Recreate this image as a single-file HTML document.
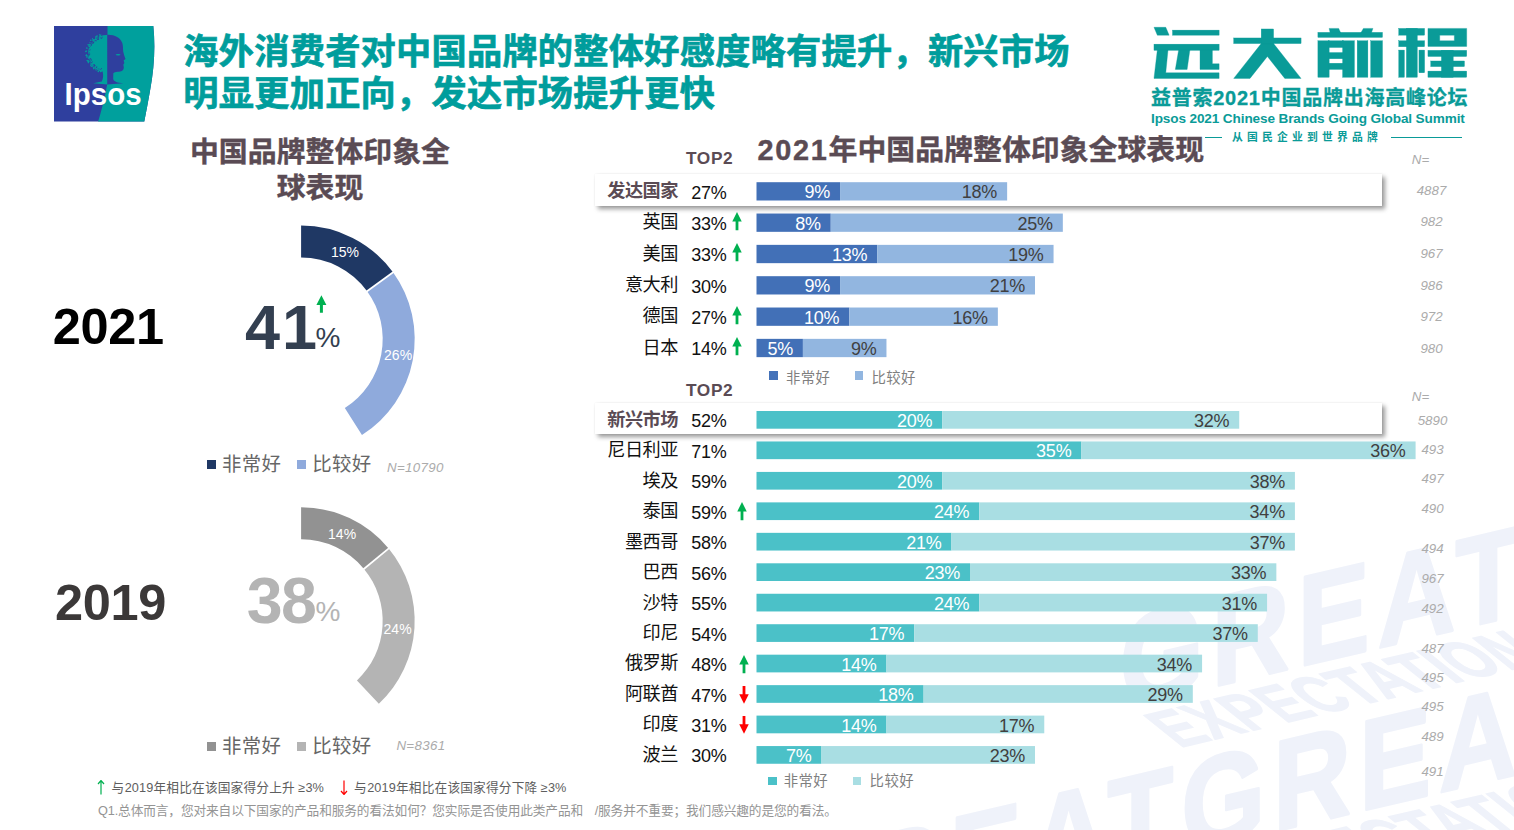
<!DOCTYPE html>
<html lang="zh-CN"><head>
<meta charset="utf-8">
<title>Ipsos 2021 Chinese Brands Going Global Summit</title>
<style>
html,body{margin:0;padding:0;}
body{width:1514px;height:830px;position:relative;overflow:hidden;background:#fff;font-family:"Liberation Sans","Noto Sans CJK SC",sans-serif;color:#000;}
.abs{position:absolute;}
.wm{position:absolute;left:0;top:0;width:1514px;height:830px;}
.title{position:absolute;left:183.3px;top:30.6px;letter-spacing:0.27px;font-size:35.2px;line-height:42.6px;-webkit-text-stroke:0.7px #009d9c;font-weight:bold;color:#009d9c;white-space:nowrap;}
.ltitle{position:absolute;left:150px;top:134px;width:340px;text-align:center;font-size:28.9px;line-height:36px;font-weight:bold;color:#5a4b54;-webkit-text-stroke:0.4px #5a4b54;}
.rtitle{position:absolute;left:757.5px;top:132px;font-size:28.9px;line-height:36px;font-weight:bold;color:#5a4b54;-webkit-text-stroke:0.4px #5a4b54;white-space:nowrap;}
.top2{position:absolute;left:686px;letter-spacing:0.6px;font-size:17.3px;line-height:20px;font-weight:bold;color:#5a4b54;}
.lbl{position:absolute;left:540px;width:138px;text-align:right;letter-spacing:-0.5px;font-size:18.2px;line-height:30px;color:#111;white-space:nowrap;}
.lbl.b{font-weight:bold;color:#5a4b54;}
.t2{position:absolute;left:691.3px;letter-spacing:-0.25px;font-size:18px;line-height:30px;color:#111;}
.bar{position:absolute;box-sizing:border-box;padding-right:10px;text-align:right;letter-spacing:-0.25px;font-size:18px;line-height:20px;white-space:nowrap;overflow:visible;}
.ar{position:absolute;}
.hl{position:absolute;background:#fff;box-shadow:3px 3px 4.5px rgba(0,0,0,.4), 0 0 1.5px rgba(0,0,0,.07);}
.n{position:absolute;width:60px;text-align:center;font-size:13.3px;line-height:16px;font-style:italic;color:#ababab;}
.lg{position:absolute;font-size:14.4px;line-height:18px;color:#7f7f7f;white-space:nowrap;letter-spacing:0.4px;}
.sq{position:absolute;width:8.5px;height:8.5px;}
.year{position:absolute;font-weight:bold;white-space:nowrap;}
.foot1{position:absolute;left:111.5px;top:779px;letter-spacing:0.16px;font-size:12.7px;line-height:18px;color:#5e5e5e;white-space:nowrap;}
.foot2{position:absolute;left:98px;top:802px;letter-spacing:-0.12px;font-size:12.7px;line-height:18px;color:#949494;white-space:nowrap;}
.sub1{position:absolute;left:1151px;top:86px;font-size:20px;line-height:24px;font-weight:bold;color:#0a9b98;letter-spacing:0.75px;-webkit-text-stroke:0.3px #0a9b98;white-space:nowrap;}
.sub2{position:absolute;left:1151px;top:110px;letter-spacing:-0.13px;font-size:13.6px;line-height:18px;font-weight:bold;color:#0a9b98;white-space:nowrap;}
.sub3{position:absolute;left:1232px;top:130px;font-size:10.8px;line-height:15px;font-weight:bold;color:#0a9b98;letter-spacing:4.2px;white-space:nowrap;}
.ln{position:absolute;height:1px;background:#0a9b98;top:137px;}
</style>
</head>
<body>

<!-- watermark -->
<svg class="wm" viewBox="0 0 1514 830">
<g fill="#eff2fa" stroke="#eff2fa" stroke-width="3" stroke-linejoin="round" font-family="Liberation Sans, sans-serif" font-weight="bold">
<g transform="matrix(0.84,-0.1974,0,1,1120,708.5)"><text x="0" y="0" font-size="128" letter-spacing="9.8">GREAT</text></g>
<g transform="matrix(0.84,-0.1974,0.92,0.737,1179.4,747.8)"><text x="0" y="0" font-size="62" letter-spacing="0.5" stroke-width="1.5">EXPECTATION</text></g>
<g transform="matrix(0.84,-0.1974,0,1,772,949.3)"><text x="0" y="0" font-size="128" letter-spacing="9.8">GREATGREAT</text></g>
<g transform="matrix(0.84,-0.1974,0.92,0.737,1248.7,890.6)"><text x="0" y="0" font-size="62" letter-spacing="0.5" stroke-width="1.5">EXPECTATION</text></g>
</g>
</svg>

<!-- Ipsos logo -->
<svg class="abs" style="left:53.7px;top:25.8px" width="101" height="96" viewBox="0 0 101 96">
<defs><clipPath id="lc"><path d="M0,0 H99.3 Q102.5,30 96,65 Q93,82 90.3,95.4 H0 Z"></path></clipPath></defs>
<g clip-path="url(#lc)">
<rect x="0" y="0" width="101" height="96" fill="#2f3f9e"></rect>
<path d="M53.5,0 H101 V96 H44 Q49,80 53.3,58 Z" fill="#00a09d"></path>
<!-- hair / tree (teal on blue) -->
<path d="M53.3,8.9 C44,8.6 34.5,15.5 34.2,26.5 C34,37 41.5,44.6 48.6,45.6 C49.6,49 49.2,53 47.8,55.6 L39.2,57.2 L53.3,58.6 Z" fill="#00a09d"></path><circle cx="37.6" cy="18.8" r="0.51" fill="#2f3f9e"></circle><circle cx="45.9" cy="10.5" r="0.58" fill="#00a09d"></circle><circle cx="46.7" cy="10.4" r="0.46" fill="#00a09d"></circle><circle cx="36.0" cy="23.5" r="0.37" fill="#2f3f9e"></circle><circle cx="33.1" cy="22.3" r="0.49" fill="#00a09d"></circle><circle cx="39.2" cy="13.8" r="0.78" fill="#00a09d"></circle><circle cx="34.5" cy="30.2" r="0.59" fill="#2f3f9e"></circle><circle cx="46.9" cy="8.8" r="0.55" fill="#00a09d"></circle><circle cx="43.5" cy="13.4" r="0.43" fill="#2f3f9e"></circle><circle cx="40.7" cy="39.4" r="0.50" fill="#2f3f9e"></circle><circle cx="35.4" cy="33.1" r="0.49" fill="#2f3f9e"></circle><circle cx="46.9" cy="12.3" r="0.40" fill="#2f3f9e"></circle><circle cx="36.0" cy="35.0" r="0.43" fill="#2f3f9e"></circle><circle cx="34.4" cy="30.6" r="0.42" fill="#2f3f9e"></circle><circle cx="38.5" cy="40.3" r="0.54" fill="#00a09d"></circle><circle cx="34.0" cy="30.1" r="0.76" fill="#00a09d"></circle><circle cx="37.7" cy="36.7" r="0.60" fill="#2f3f9e"></circle><circle cx="44.0" cy="11.7" r="0.54" fill="#2f3f9e"></circle><circle cx="42.4" cy="12.2" r="0.46" fill="#00a09d"></circle><circle cx="34.5" cy="35.1" r="0.65" fill="#00a09d"></circle><circle cx="42.6" cy="41.5" r="0.52" fill="#2f3f9e"></circle><circle cx="34.0" cy="31.2" r="0.61" fill="#00a09d"></circle><circle cx="39.7" cy="42.7" r="0.62" fill="#00a09d"></circle><circle cx="37.0" cy="33.7" r="0.53" fill="#2f3f9e"></circle><circle cx="33.2" cy="34.4" r="0.74" fill="#00a09d"></circle><circle cx="37.9" cy="16.7" r="0.52" fill="#2f3f9e"></circle><circle cx="48.4" cy="10.3" r="0.51" fill="#00a09d"></circle><circle cx="44.6" cy="13.1" r="0.54" fill="#2f3f9e"></circle><circle cx="43.8" cy="12.6" r="0.45" fill="#2f3f9e"></circle><circle cx="42.9" cy="40.5" r="0.46" fill="#2f3f9e"></circle><circle cx="32.4" cy="29.0" r="0.74" fill="#00a09d"></circle><circle cx="42.2" cy="41.1" r="0.45" fill="#2f3f9e"></circle><circle cx="34.2" cy="18.8" r="0.79" fill="#00a09d"></circle><circle cx="43.1" cy="13.3" r="0.41" fill="#2f3f9e"></circle><circle cx="39.3" cy="14.6" r="0.66" fill="#00a09d"></circle><circle cx="39.7" cy="17.0" r="0.45" fill="#2f3f9e"></circle><circle cx="35.1" cy="19.9" r="0.78" fill="#00a09d"></circle><circle cx="35.9" cy="35.6" r="0.67" fill="#00a09d"></circle><circle cx="37.3" cy="34.1" r="0.57" fill="#2f3f9e"></circle><circle cx="37.5" cy="40.3" r="0.73" fill="#00a09d"></circle><circle cx="35.3" cy="21.2" r="0.38" fill="#2f3f9e"></circle><circle cx="36.5" cy="32.4" r="0.37" fill="#2f3f9e"></circle><circle cx="41.0" cy="14.8" r="0.44" fill="#2f3f9e"></circle><circle cx="47.4" cy="12.4" r="0.39" fill="#2f3f9e"></circle><circle cx="44.8" cy="11.6" r="0.36" fill="#2f3f9e"></circle><circle cx="41.9" cy="42.5" r="0.50" fill="#00a09d"></circle><circle cx="39.0" cy="15.6" r="0.44" fill="#2f3f9e"></circle><circle cx="43.1" cy="10.1" r="0.80" fill="#00a09d"></circle><circle cx="34.1" cy="24.7" r="0.48" fill="#00a09d"></circle><circle cx="44.8" cy="11.7" r="0.42" fill="#2f3f9e"></circle><circle cx="41.2" cy="39.7" r="0.36" fill="#2f3f9e"></circle><circle cx="45.5" cy="43.8" r="0.50" fill="#00a09d"></circle><circle cx="35.8" cy="28.4" r="0.48" fill="#2f3f9e"></circle><circle cx="46.5" cy="45.5" r="0.69" fill="#00a09d"></circle><circle cx="38.7" cy="15.9" r="0.39" fill="#2f3f9e"></circle><circle cx="38.2" cy="39.0" r="0.72" fill="#00a09d"></circle><circle cx="37.2" cy="18.9" r="0.55" fill="#2f3f9e"></circle><circle cx="46.9" cy="45.6" r="0.73" fill="#00a09d"></circle><circle cx="39.3" cy="41.3" r="0.53" fill="#00a09d"></circle><circle cx="34.4" cy="27.3" r="0.36" fill="#2f3f9e"></circle><circle cx="48.2" cy="11.1" r="0.41" fill="#2f3f9e"></circle><circle cx="34.4" cy="36.7" r="0.61" fill="#00a09d"></circle><circle cx="44.3" cy="45.4" r="0.78" fill="#00a09d"></circle><circle cx="36.5" cy="20.3" r="0.41" fill="#2f3f9e"></circle><circle cx="41.3" cy="14.3" r="0.51" fill="#2f3f9e"></circle><circle cx="42.7" cy="44.0" r="0.62" fill="#00a09d"></circle><circle cx="34.0" cy="34.4" r="0.48" fill="#00a09d"></circle><circle cx="33.8" cy="35.0" r="0.72" fill="#00a09d"></circle><circle cx="37.7" cy="38.0" r="0.51" fill="#00a09d"></circle><circle cx="39.3" cy="39.0" r="0.55" fill="#2f3f9e"></circle><circle cx="46.6" cy="43.5" r="0.45" fill="#2f3f9e"></circle><circle cx="45.1" cy="44.5" r="0.51" fill="#00a09d"></circle><circle cx="44.1" cy="12.9" r="0.58" fill="#2f3f9e"></circle><circle cx="40.4" cy="39.0" r="0.56" fill="#2f3f9e"></circle><circle cx="46.8" cy="44.7" r="0.57" fill="#00a09d"></circle><circle cx="35.4" cy="28.7" r="0.35" fill="#2f3f9e"></circle><circle cx="46.4" cy="44.6" r="0.63" fill="#00a09d"></circle><circle cx="44.9" cy="43.1" r="0.57" fill="#2f3f9e"></circle><circle cx="40.9" cy="39.8" r="0.41" fill="#2f3f9e"></circle><circle cx="38.1" cy="17.4" r="0.50" fill="#2f3f9e"></circle><circle cx="38.6" cy="15.7" r="0.38" fill="#2f3f9e"></circle><circle cx="44.0" cy="42.4" r="0.46" fill="#2f3f9e"></circle><circle cx="32.5" cy="30.9" r="0.60" fill="#00a09d"></circle><circle cx="44.0" cy="43.1" r="0.64" fill="#00a09d"></circle><circle cx="35.8" cy="27.5" r="0.46" fill="#2f3f9e"></circle><circle cx="42.3" cy="14.7" r="0.55" fill="#2f3f9e"></circle><circle cx="41.6" cy="12.7" r="0.70" fill="#00a09d"></circle><circle cx="34.7" cy="29.1" r="0.48" fill="#2f3f9e"></circle><circle cx="32.8" cy="29.3" r="0.49" fill="#00a09d"></circle><circle cx="35.0" cy="29.3" r="0.42" fill="#2f3f9e"></circle><circle cx="38.3" cy="39.0" r="0.65" fill="#00a09d"></circle><circle cx="36.6" cy="39.6" r="0.61" fill="#00a09d"></circle><circle cx="34.5" cy="32.0" r="0.63" fill="#00a09d"></circle><circle cx="36.2" cy="35.6" r="0.48" fill="#2f3f9e"></circle><circle cx="32.2" cy="25.1" r="0.69" fill="#00a09d"></circle><circle cx="41.4" cy="43.8" r="0.54" fill="#00a09d"></circle><circle cx="32.2" cy="29.6" r="0.74" fill="#00a09d"></circle><circle cx="43.7" cy="13.2" r="0.46" fill="#2f3f9e"></circle><circle cx="46.3" cy="11.7" r="0.37" fill="#2f3f9e"></circle><circle cx="34.4" cy="35.2" r="0.76" fill="#00a09d"></circle><circle cx="41.9" cy="11.4" r="0.68" fill="#00a09d"></circle><circle cx="42.1" cy="10.5" r="0.79" fill="#00a09d"></circle><circle cx="38.5" cy="12.6" r="0.59" fill="#00a09d"></circle><circle cx="31.9" cy="25.6" r="0.74" fill="#00a09d"></circle><circle cx="42.2" cy="12.6" r="0.48" fill="#2f3f9e"></circle><circle cx="37.1" cy="19.3" r="0.43" fill="#2f3f9e"></circle><circle cx="38.4" cy="35.8" r="0.49" fill="#2f3f9e"></circle><circle cx="36.2" cy="23.9" r="0.43" fill="#2f3f9e"></circle><circle cx="34.6" cy="32.6" r="0.47" fill="#00a09d"></circle><circle cx="46.9" cy="45.3" r="0.79" fill="#00a09d"></circle><circle cx="44.8" cy="12.0" r="0.36" fill="#2f3f9e"></circle><circle cx="39.2" cy="38.5" r="0.38" fill="#2f3f9e"></circle><circle cx="32.8" cy="22.1" r="0.74" fill="#00a09d"></circle><circle cx="39.4" cy="16.4" r="0.58" fill="#2f3f9e"></circle><circle cx="33.2" cy="30.1" r="0.48" fill="#00a09d"></circle><circle cx="46.5" cy="9.6" r="0.60" fill="#00a09d"></circle><circle cx="45.5" cy="8.8" r="0.67" fill="#00a09d"></circle><circle cx="40.4" cy="38.7" r="0.56" fill="#2f3f9e"></circle><circle cx="45.9" cy="9.0" r="0.61" fill="#00a09d"></circle><circle cx="35.8" cy="18.6" r="0.77" fill="#00a09d"></circle><circle cx="39.2" cy="16.8" r="0.48" fill="#2f3f9e"></circle><circle cx="40.1" cy="15.9" r="0.39" fill="#2f3f9e"></circle><circle cx="47.3" cy="11.6" r="0.43" fill="#2f3f9e"></circle><circle cx="36.0" cy="16.6" r="0.55" fill="#00a09d"></circle><circle cx="35.2" cy="26.5" r="0.44" fill="#2f3f9e"></circle><circle cx="48.7" cy="11.1" r="0.35" fill="#2f3f9e"></circle><circle cx="36.9" cy="37.5" r="0.52" fill="#00a09d"></circle><circle cx="32.2" cy="24.9" r="0.49" fill="#00a09d"></circle><circle cx="40.1" cy="40.3" r="0.47" fill="#2f3f9e"></circle><circle cx="40.8" cy="40.7" r="0.48" fill="#2f3f9e"></circle><circle cx="34.2" cy="36.5" r="0.57" fill="#00a09d"></circle><circle cx="39.9" cy="41.7" r="0.67" fill="#00a09d"></circle><circle cx="35.3" cy="21.9" r="0.36" fill="#2f3f9e"></circle><circle cx="44.1" cy="13.2" r="0.54" fill="#2f3f9e"></circle><circle cx="39.4" cy="16.3" r="0.37" fill="#2f3f9e"></circle><circle cx="39.9" cy="42.5" r="0.68" fill="#00a09d"></circle><circle cx="38.4" cy="17.0" r="0.42" fill="#2f3f9e"></circle><circle cx="35.4" cy="24.6" r="0.46" fill="#2f3f9e"></circle><circle cx="36.8" cy="14.3" r="0.79" fill="#00a09d"></circle><circle cx="34.9" cy="28.7" r="0.59" fill="#2f3f9e"></circle><circle cx="37.3" cy="17.8" r="0.35" fill="#2f3f9e"></circle><circle cx="35.2" cy="20.6" r="0.63" fill="#00a09d"></circle><circle cx="40.4" cy="13.5" r="0.45" fill="#00a09d"></circle><circle cx="39.4" cy="16.8" r="0.45" fill="#2f3f9e"></circle><circle cx="47.8" cy="12.2" r="0.43" fill="#2f3f9e"></circle><circle cx="39.0" cy="14.2" r="0.64" fill="#00a09d"></circle><circle cx="37.1" cy="38.5" r="0.70" fill="#00a09d"></circle><circle cx="42.6" cy="41.8" r="0.43" fill="#2f3f9e"></circle><circle cx="47.4" cy="42.6" r="0.53" fill="#2f3f9e"></circle><circle cx="36.7" cy="32.8" r="0.56" fill="#2f3f9e"></circle>
<!-- face (blue on teal) -->
<path d="M53.3,8.8 C60,8.4 66.5,11.5 68.3,17 C69.2,20 69,23.5 69.2,25.5 C69.6,28 70.6,30.5 71.5,33 L69.6,34.6 L70.4,37 L69.3,38.8 L69.8,41 C70,44.5 67.5,45.8 63.5,45.8 C61.5,46 60,46.5 59.3,47.2 L59.2,53 C59.8,55.5 63.5,56.8 69.2,57.3 L53.3,58.6 Z" fill="#2f3f9e"></path>
<ellipse cx="64.1" cy="28.8" rx="2.4" ry="0.8" fill="#00a09d"></ellipse>
</g>
<text x="10.6" y="78.9" font-family="Liberation Sans, sans-serif" font-weight="bold" font-size="31.5" fill="#fff" textLength="77" lengthAdjust="spacingAndGlyphs">Ipsos</text>
</svg>

<!-- main title -->
<div class="title">海外消费者对中国品牌的整体好感度略有提升，新兴市场<br>明显更加正向，发达市场提升更快</div>

<!-- summit logo -->
<svg class="abs" style="left:0;top:0" width="1514" height="100" viewBox="0 0 1514 100" fill="#0a9b98" stroke="#0a9b98" stroke-width="0.35">
<polygon points="1153.98,27.3 1165.77,27.3 1169.14,35.16 1157.35,35.16"></polygon>
<rect x="1172.51" y="30.11" width="46.6" height="5.05"></rect>
<rect x="1153.98" y="44.14" width="65.13" height="6.18"></rect>
<polygon points="1157.35,49.76 1168.02,49.76 1165.77,72.77 1219.11,72.77 1219.11,78.39 1153.98,78.39"></polygon>
<polygon points="1178.69,49.76 1189.91,49.76 1187.11,69.4 1175.32,69.4"></polygon>
<polygon points="1200.02,49.76 1212.37,49.76 1212.37,63.79 1219.11,63.79 1219.11,69.4 1200.02,69.4"></polygon>
<rect x="1233.7" y="37.97" width="67.37" height="5.61"></rect>
<rect x="1261.21" y="28.98" width="12.36" height="15.27"></rect>
<polygon points="1261.21,43.58 1273.57,43.58 1301.07,78.39 1284.79,78.39 1267.39,56.49 1249.99,78.39 1233.7,78.39"></polygon>
<polygon points="1329.14,28.42 1338.69,28.42 1340.93,33.25 1330.26,33.25"></polygon>
<polygon points="1363.39,28.42 1372.93,28.42 1371.25,33.25 1360.58,33.25"></polygon>
<rect x="1317.91" y="32.35" width="64.57" height="5.05"></rect>
<rect x="1317.91" y="40.77" width="11.23" height="36.49"></rect>
<rect x="1342.62" y="40.77" width="11.78" height="36.49"></rect>
<rect x="1328.36" y="40.77" width="15.04" height="6.74"></rect>
<rect x="1328.36" y="52.56" width="15.04" height="6.18"></rect>
<rect x="1328.36" y="63.23" width="15.04" height="6.17"></rect>
<rect x="1357.21" y="40.77" width="10.67" height="36.49"></rect>
<rect x="1370.69" y="40.77" width="11.79" height="36.49"></rect>
<rect x="1398.76" y="28.42" width="25.82" height="6.74"></rect>
<rect x="1398.76" y="40.77" width="25.82" height="5.95"></rect>
<rect x="1406.39" y="28.42" width="10.89" height="48.84"></rect>
<rect x="1398.76" y="50.09" width="5.61" height="27.17"></rect>
<rect x="1418.97" y="50.09" width="5.61" height="22.68"></rect>
<path fill-rule="evenodd" d="M1427.95,28.42 H1466.69 V46.39 H1427.95 Z M1439.74,35.16 H1454.34 V40.77 H1439.74 Z"></path>
<rect x="1427.95" y="50.32" width="38.74" height="6.17"></rect>
<rect x="1430.76" y="60.98" width="33.68" height="5.62"></rect>
<rect x="1427.95" y="71.09" width="38.74" height="6.17"></rect>
<rect x="1441.42" y="50.32" width="11.79" height="26.94"></rect>
</svg>
<div class="sub1" style="left: 1151px; top: 86px;">益普索</div><div class="sub1" style="left: 1213.25px; top: 86px;">2021</div><div class="sub1" style="left: 1260.73px; top: 86px;">中国品牌出海高峰论坛</div>
<div class="sub2">Ipsos 2021 Chinese Brands Going Global Summit</div>
<div class="ln" style="left:1205px;width:17px"></div>
<div class="sub3">从国民企业到世界品牌</div>
<div class="ln" style="left:1391px;width:71px"></div>

<!-- left panel -->
<div class="ltitle">中国品牌整体印象全<br>球表现</div>
<svg class="abs" style="left:0;top:0" width="500" height="830" viewBox="0 0 500 830">
<path d="M301.10,225.50 A113.6,113.6 0 0 1 393.00,272.33 L367.12,291.14 A81.6,81.6 0 0 0 301.10,257.50 Z" fill="#1f3864"></path><path d="M393.00,272.33 A113.6,113.6 0 0 1 361.97,435.02 L344.82,408.00 A81.6,81.6 0 0 0 367.12,291.14 Z" fill="#8faadc"></path><path d="M366.31,291.72 L393.81,271.74" stroke="#fff" stroke-width="1.7"></path><path d="M301.10,507.30 A113.6,113.6 0 0 1 388.63,548.49 L363.97,568.89 A81.6,81.6 0 0 0 301.10,539.30 Z" fill="#929292"></path><path d="M388.63,548.49 A113.6,113.6 0 0 1 378.86,703.71 L356.96,680.38 A81.6,81.6 0 0 0 363.97,568.89 Z" fill="#b4b4b4"></path><path d="M363.20,569.52 L389.40,547.85" stroke="#fff" stroke-width="1.7"></path>
<g font-family="Liberation Sans, sans-serif" font-size="14" fill="#fff" text-anchor="middle">
<text x="344.9" y="257.4">15%</text>
<text x="398.1" y="360">26%</text>
<text x="342.1" y="538.6">14%</text>
<text x="397.6" y="633.7">24%</text>
</g>
<path d="M321.4 295.3 L326.4 305 L322.9 305 L322.9 312.7 L319.9 312.7 L319.9 305 L316.4 305 Z" fill="#00b050"></path>
</svg>
<div class="year" style="left:52.8px;top:298.6px;font-size:50.5px;line-height:56px;color:#000;letter-spacing:-0.35px">2021</div>
<div class="year" style="left:55px;top:575.3px;font-size:50.5px;line-height:56px;color:#3b3838;letter-spacing:-0.35px">2019</div>
<div class="year" style="left:245px;top:292px;font-size:63px;line-height:70px;letter-spacing:2px;color:#333f50">41</div>
<div class="year" style="left:246.8px;top:565.6px;font-size:64.5px;line-height:70px;color:#b4b4b4;letter-spacing:-1.6px">38</div>
<div class="abs" style="left:315.5px;top:322.5px;font-size:28px;line-height:30px;color:#333f50">%</div>
<div class="abs" style="left:315.5px;top:596.5px;font-size:28px;line-height:30px;color:#b4b4b4">%</div>

<div class="sq" style="left:206.9px;top:460.1px;width:9.2px;height:9.2px;background:#1f3864"></div>
<div class="lg" style="left: 222px; top: 452.3px; font-size: 19.4px; line-height: 24px; color: rgb(102, 102, 102);">非常好</div>
<div class="sq" style="left:296.7px;top:460.1px;width:9.2px;height:9.2px;background:#8faadc"></div>
<div class="lg" style="left: 312.2px; top: 452.3px; font-size: 19.4px; line-height: 24px; color: rgb(102, 102, 102);">比较好</div>
<div class="n" style="left:387px;top:460.3px;width:auto;letter-spacing:0.35px">N=10790</div>

<div class="sq" style="left:206.9px;top:742.1px;width:9.2px;height:9.2px;background:#929292"></div>
<div class="lg" style="left: 222px; top: 734.3px; font-size: 19.4px; line-height: 24px; color: rgb(102, 102, 102);">非常好</div>
<div class="sq" style="left:296.7px;top:742.1px;width:9.2px;height:9.2px;background:#b4b4b4"></div>
<div class="lg" style="left: 312.2px; top: 734.3px; font-size: 19.4px; line-height: 24px; color: rgb(102, 102, 102);">比较好</div>
<div class="n" style="left:396.4px;top:738px;width:auto;letter-spacing:0.35px">N=8361</div>

<!-- right panel -->
<div class="rtitle" style="left: 757.5px; top: 132px; letter-spacing: 1.7px;">2021</div><div class="rtitle" style="left: 828.58px; top: 132px;">年中国品牌整体印象全球表现</div>
<div class="top2" style="top:148px">TOP2</div>
<div class="top2" style="top:380px">TOP2</div>
<div class="hl" style="left:595px;top:173.7px;width:787.2px;height:32px"></div>
<div class="hl" style="left:595px;top:402.8px;width:787.2px;height:31.2px"></div>
<svg class="abs" style="left:0;top:0" width="1514" height="830" viewBox="0 0 1514 830">
<rect x="756.5" y="182.2" width="83.55" height="18.3" fill="#4270b7"></rect>
<rect x="840.05" y="182.2" width="167.09" height="18.3" fill="#92b6e0"></rect>
<rect x="756.5" y="213.53" width="74.26" height="18.3" fill="#4270b7"></rect>
<rect x="830.76" y="213.53" width="232.07" height="18.3" fill="#92b6e0"></rect>
<rect x="756.5" y="244.86" width="120.68" height="18.3" fill="#4270b7"></rect>
<rect x="877.18" y="244.86" width="176.38" height="18.3" fill="#92b6e0"></rect>
<rect x="756.5" y="276.19" width="83.55" height="18.3" fill="#4270b7"></rect>
<rect x="840.05" y="276.19" width="194.94" height="18.3" fill="#92b6e0"></rect>
<rect x="756.5" y="307.52" width="92.83" height="18.3" fill="#4270b7"></rect>
<rect x="849.33" y="307.52" width="148.53" height="18.3" fill="#92b6e0"></rect>
<rect x="756.5" y="338.85" width="46.41" height="18.3" fill="#4270b7"></rect>
<rect x="802.91" y="338.85" width="83.55" height="18.3" fill="#92b6e0"></rect>
<rect x="756.5" y="411" width="185.66" height="17.7" fill="#4bc1c8"></rect>
<rect x="942.16" y="411" width="297.06" height="17.7" fill="#a9dee3"></rect>
<rect x="756.5" y="441.46" width="324.9" height="17.7" fill="#4bc1c8"></rect>
<rect x="1081.4" y="441.46" width="334.19" height="17.7" fill="#a9dee3"></rect>
<rect x="756.5" y="471.92" width="185.66" height="17.7" fill="#4bc1c8"></rect>
<rect x="942.16" y="471.92" width="352.75" height="17.7" fill="#a9dee3"></rect>
<rect x="756.5" y="502.38" width="222.79" height="17.7" fill="#4bc1c8"></rect>
<rect x="979.29" y="502.38" width="315.62" height="17.7" fill="#a9dee3"></rect>
<rect x="756.5" y="532.84" width="194.94" height="17.7" fill="#4bc1c8"></rect>
<rect x="951.44" y="532.84" width="343.47" height="17.7" fill="#a9dee3"></rect>
<rect x="756.5" y="563.3" width="213.51" height="17.7" fill="#4bc1c8"></rect>
<rect x="970.01" y="563.3" width="306.34" height="17.7" fill="#a9dee3"></rect>
<rect x="756.5" y="593.76" width="222.79" height="17.7" fill="#4bc1c8"></rect>
<rect x="979.29" y="593.76" width="287.77" height="17.7" fill="#a9dee3"></rect>
<rect x="756.5" y="624.22" width="157.81" height="17.7" fill="#4bc1c8"></rect>
<rect x="914.31" y="624.22" width="343.47" height="17.7" fill="#a9dee3"></rect>
<rect x="756.5" y="654.68" width="129.96" height="17.7" fill="#4bc1c8"></rect>
<rect x="886.46" y="654.68" width="315.62" height="17.7" fill="#a9dee3"></rect>
<rect x="756.5" y="685.14" width="167.09" height="17.7" fill="#4bc1c8"></rect>
<rect x="923.59" y="685.14" width="269.21" height="17.7" fill="#a9dee3"></rect>
<rect x="756.5" y="715.6" width="129.96" height="17.7" fill="#4bc1c8"></rect>
<rect x="886.46" y="715.6" width="157.81" height="17.7" fill="#a9dee3"></rect>
<rect x="756.5" y="746.06" width="64.98" height="17.7" fill="#4bc1c8"></rect>
<rect x="821.48" y="746.06" width="213.51" height="17.7" fill="#a9dee3"></rect>
</svg>
<div class="lbl b" style="top: 176px;">发达国家</div>
<div class="t2" style="top:177.6px">27%</div>
<div class="bar" style="left:756.5px;top:182.2px;width:83.55px;height:18.3px;color:#fff">9%</div>
<div class="bar" style="left:840.05px;top:182.2px;width:167.09px;height:18.3px;color:#404040">18%</div>
<div class="lbl" style="top: 207.33px;">英国</div>
<div class="t2" style="top:208.93px">33%</div>
<svg class="ar" style="left:731.5px;top:212.03px" width="10" height="19" viewBox="0 0 10 19"><path d="M5 0 L9.75 9.5 L6.4 9.5 L6.4 18.2 L3.6 18.2 L3.6 9.5 L0.25 9.5 Z" fill="#00b050"></path></svg>
<div class="bar" style="left:756.5px;top:213.53px;width:74.26px;height:18.3px;color:#fff">8%</div>
<div class="bar" style="left:830.76px;top:213.53px;width:232.07px;height:18.3px;color:#404040">25%</div>
<div class="lbl" style="top: 238.66px;">美国</div>
<div class="t2" style="top:240.26px">33%</div>
<svg class="ar" style="left:731.5px;top:243.36px" width="10" height="19" viewBox="0 0 10 19"><path d="M5 0 L9.75 9.5 L6.4 9.5 L6.4 18.2 L3.6 18.2 L3.6 9.5 L0.25 9.5 Z" fill="#00b050"></path></svg>
<div class="bar" style="left:756.5px;top:244.86px;width:120.68px;height:18.3px;color:#fff">13%</div>
<div class="bar" style="left:877.18px;top:244.86px;width:176.38px;height:18.3px;color:#404040">19%</div>
<div class="lbl" style="top: 269.99px;">意大利</div>
<div class="t2" style="top:271.59px">30%</div>
<div class="bar" style="left:756.5px;top:276.19px;width:83.55px;height:18.3px;color:#fff">9%</div>
<div class="bar" style="left:840.05px;top:276.19px;width:194.94px;height:18.3px;color:#404040">21%</div>
<div class="lbl" style="top: 301.32px;">德国</div>
<div class="t2" style="top:302.92px">27%</div>
<svg class="ar" style="left:731.5px;top:306.02px" width="10" height="19" viewBox="0 0 10 19"><path d="M5 0 L9.75 9.5 L6.4 9.5 L6.4 18.2 L3.6 18.2 L3.6 9.5 L0.25 9.5 Z" fill="#00b050"></path></svg>
<div class="bar" style="left:756.5px;top:307.52px;width:92.83px;height:18.3px;color:#fff">10%</div>
<div class="bar" style="left:849.33px;top:307.52px;width:148.53px;height:18.3px;color:#404040">16%</div>
<div class="lbl" style="top: 332.65px;">日本</div>
<div class="t2" style="top:334.25px">14%</div>
<svg class="ar" style="left:731.5px;top:337.35px" width="10" height="19" viewBox="0 0 10 19"><path d="M5 0 L9.75 9.5 L6.4 9.5 L6.4 18.2 L3.6 18.2 L3.6 9.5 L0.25 9.5 Z" fill="#00b050"></path></svg>
<div class="bar" style="left:756.5px;top:338.85px;width:46.41px;height:18.3px;color:#fff">5%</div>
<div class="bar" style="left:802.91px;top:338.85px;width:83.55px;height:18.3px;color:#404040">9%</div>
<div class="lbl b" style="top: 404.8px;">新兴市场</div>
<div class="t2" style="top:406.4px">52%</div>
<div class="bar" style="left:756.5px;top:411px;width:185.66px;height:17.7px;color:#fff">20%</div>
<div class="bar" style="left:942.16px;top:411px;width:297.06px;height:17.7px;color:#404040">32%</div>
<div class="lbl" style="top: 435.26px;">尼日利亚</div>
<div class="t2" style="top:436.86px">71%</div>
<div class="bar" style="left:756.5px;top:441.46px;width:324.9px;height:17.7px;color:#fff">35%</div>
<div class="bar" style="left:1081.4px;top:441.46px;width:334.19px;height:17.7px;color:#404040">36%</div>
<div class="lbl" style="top: 465.72px;">埃及</div>
<div class="t2" style="top:467.32px">59%</div>
<div class="bar" style="left:756.5px;top:471.92px;width:185.66px;height:17.7px;color:#fff">20%</div>
<div class="bar" style="left:942.16px;top:471.92px;width:352.75px;height:17.7px;color:#404040">38%</div>
<div class="lbl" style="top: 496.18px;">泰国</div>
<div class="t2" style="top:497.78px">59%</div>
<svg class="ar" style="left:736.6px;top:502.28px" width="10" height="19" viewBox="0 0 10 19"><path d="M5 0 L9.75 9.5 L6.4 9.5 L6.4 18.2 L3.6 18.2 L3.6 9.5 L0.25 9.5 Z" fill="#00b050"></path></svg>
<div class="bar" style="left:756.5px;top:502.38px;width:222.79px;height:17.7px;color:#fff">24%</div>
<div class="bar" style="left:979.29px;top:502.38px;width:315.62px;height:17.7px;color:#404040">34%</div>
<div class="lbl" style="top: 526.64px;">墨西哥</div>
<div class="t2" style="top:528.24px">58%</div>
<div class="bar" style="left:756.5px;top:532.84px;width:194.94px;height:17.7px;color:#fff">21%</div>
<div class="bar" style="left:951.44px;top:532.84px;width:343.47px;height:17.7px;color:#404040">37%</div>
<div class="lbl" style="top: 557.1px;">巴西</div>
<div class="t2" style="top:558.7px">56%</div>
<div class="bar" style="left:756.5px;top:563.3px;width:213.51px;height:17.7px;color:#fff">23%</div>
<div class="bar" style="left:970.01px;top:563.3px;width:306.34px;height:17.7px;color:#404040">33%</div>
<div class="lbl" style="top: 587.56px;">沙特</div>
<div class="t2" style="top:589.16px">55%</div>
<div class="bar" style="left:756.5px;top:593.76px;width:222.79px;height:17.7px;color:#fff">24%</div>
<div class="bar" style="left:979.29px;top:593.76px;width:287.77px;height:17.7px;color:#404040">31%</div>
<div class="lbl" style="top: 618.02px;">印尼</div>
<div class="t2" style="top:619.62px">54%</div>
<div class="bar" style="left:756.5px;top:624.22px;width:157.81px;height:17.7px;color:#fff">17%</div>
<div class="bar" style="left:914.31px;top:624.22px;width:343.47px;height:17.7px;color:#404040">37%</div>
<div class="lbl" style="top: 648.48px;">俄罗斯</div>
<div class="t2" style="top:650.08px">48%</div>
<svg class="ar" style="left:738.5px;top:654.58px" width="10" height="19" viewBox="0 0 10 19"><path d="M5 0 L9.75 9.5 L6.4 9.5 L6.4 18.2 L3.6 18.2 L3.6 9.5 L0.25 9.5 Z" fill="#00b050"></path></svg>
<div class="bar" style="left:756.5px;top:654.68px;width:129.96px;height:17.7px;color:#fff">14%</div>
<div class="bar" style="left:886.46px;top:654.68px;width:315.62px;height:17.7px;color:#404040">34%</div>
<div class="lbl" style="top: 678.94px;">阿联酋</div>
<div class="t2" style="top:680.54px">47%</div>
<svg class="ar" style="left:738.5px;top:685.74px" width="10" height="19" viewBox="0 0 10 19"><path d="M5 17.7 L9.75 8.3 L6.4 8.3 L6.4 0 L3.6 0 L3.6 8.3 L0.25 8.3 Z" fill="#ff0000"></path></svg>
<div class="bar" style="left:756.5px;top:685.14px;width:167.09px;height:17.7px;color:#fff">18%</div>
<div class="bar" style="left:923.59px;top:685.14px;width:269.21px;height:17.7px;color:#404040">29%</div>
<div class="lbl" style="top: 709.4px;">印度</div>
<div class="t2" style="top:711px">31%</div>
<svg class="ar" style="left:738.5px;top:716.2px" width="10" height="19" viewBox="0 0 10 19"><path d="M5 17.7 L9.75 8.3 L6.4 8.3 L6.4 0 L3.6 0 L3.6 8.3 L0.25 8.3 Z" fill="#ff0000"></path></svg>
<div class="bar" style="left:756.5px;top:715.6px;width:129.96px;height:17.7px;color:#fff">14%</div>
<div class="bar" style="left:886.46px;top:715.6px;width:157.81px;height:17.7px;color:#404040">17%</div>
<div class="lbl" style="top: 739.86px;">波兰</div>
<div class="t2" style="top:741.46px">30%</div>
<div class="bar" style="left:756.5px;top:746.06px;width:64.98px;height:17.7px;color:#fff">7%</div>
<div class="bar" style="left:821.48px;top:746.06px;width:213.51px;height:17.7px;color:#404040">23%</div>
<div class="n" style="top:151.7px;left:1390.5px">N=</div>
<div class="n" style="top:182.7px;left:1401.5px">4887</div>
<div class="n" style="top:214px;left:1401.5px">982</div>
<div class="n" style="top:246px;left:1401.5px">967</div>
<div class="n" style="top:277.5px;left:1401.5px">986</div>
<div class="n" style="top:309px;left:1401.5px">972</div>
<div class="n" style="top:341px;left:1401.5px">980</div>
<div class="n" style="top:389.3px;left:1390.5px">N=</div>
<div class="n" style="top:413px;left:1402.5px">5890</div>
<div class="n" style="top:441.8px;left:1402.5px">493</div>
<div class="n" style="top:471px;left:1402.5px">497</div>
<div class="n" style="top:501px;left:1402.5px">490</div>
<div class="n" style="top:541px;left:1402.5px">494</div>
<div class="n" style="top:571px;left:1402.5px">967</div>
<div class="n" style="top:601px;left:1402.5px">492</div>
<div class="n" style="top:641px;left:1402.5px">487</div>
<div class="n" style="top:670px;left:1402.5px">495</div>
<div class="n" style="top:699px;left:1402.5px">495</div>
<div class="n" style="top:729px;left:1402.5px">489</div>
<div class="n" style="top:764px;left:1402.5px">491</div>

<div class="sq" style="left:769.2px;top:371px;background:#4472b9"></div>
<div class="lg" style="left: 786px; top: 368.5px;">非常好</div>
<div class="sq" style="left:854.5px;top:371px;background:#92b6e0"></div>
<div class="lg" style="left: 871.4px; top: 368.5px;">比较好</div>

<div class="sq" style="left:768px;top:776.6px;background:#4bc1c8"></div>
<div class="lg" style="left: 783.7px; top: 771.5px;">非常好</div>
<div class="sq" style="left:852.7px;top:776.6px;background:#a9dee3"></div>
<div class="lg" style="left: 869.6px; top: 771.5px;">比较好</div>

<!-- footnotes -->
<svg class="abs" style="left:97px;top:780px" width="8" height="15" viewBox="0 0 8 15"><path d="M4 0.5 L4 14.5 M1 4 L4 0.5 L7 4" stroke="#00b050" stroke-width="1.2" fill="none"></path></svg>
<div class="foot1" style="left: 111.5px; top: 779px;">与</div><div class="foot1" style="left: 124.66px; top: 779px;">2019</div><div class="foot1" style="left: 153.52px; top: 779px;">年相比在该国家得分上升</div><div class="foot1" style="left: 298.28px; top: 779px;">≥3%</div>
<svg class="abs" style="left:340px;top:780px" width="8" height="15" viewBox="0 0 8 15"><path d="M4 0.5 L4 14.5 M1 11 L4 14.5 L7 11" stroke="#ff0000" stroke-width="1.2" fill="none"></path></svg>
<div class="foot1" style="left: 354px; top: 779px;">与</div><div class="foot1" style="left: 367.16px; top: 779px;">2019</div><div class="foot1" style="left: 396.02px; top: 779px;">年相比在该国家得分下降</div><div class="foot1" style="left: 540.78px; top: 779px;">≥3%</div>
<div class="foot2" style="left: 98px; top: 802px;">Q1.</div><div class="foot2" style="left: 118.08px; top: 802px;">总体而言，您对来自以下国家的产品和服务的看法如何？您实际是否使用此类产品和</div><div class="foot2" style="left: 594.64px; top: 802px;">/</div><div class="foot2" style="left: 598.05px; top: 802px;">服务并不重要；我们感兴趣的是您的看法。</div>

</body></html>
